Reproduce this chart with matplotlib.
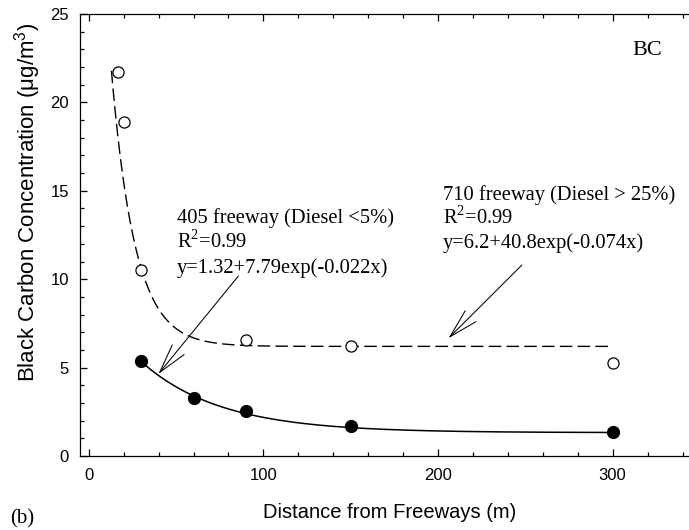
import numpy as np
import matplotlib
matplotlib.use("Agg")
import matplotlib.pyplot as plt
from matplotlib.ticker import MultipleLocator

plt.rcParams["mathtext.fontset"] = "custom"
plt.rcParams["mathtext.rm"] = "Liberation Serif"
plt.rcParams["mathtext.sf"] = "Liberation Sans"

# ---- data ----
dist_710 = [17, 20, 30, 90, 150, 300]
bc_710 = [21.7, 18.9, 10.5, 6.55, 6.2, 5.25]
dist_405 = [30, 60, 90, 150, 300]
bc_405 = [5.35, 3.28, 2.53, 1.70, 1.35]

# fitted curves as printed in the chart: y = a + b*exp(-k*x)
fit_710 = (6.2, 40.8, 0.074)
fit_710_range = (13, 300)
fit_405 = (1.32, 7.79, 0.022)
fit_405_range = (30, 300)

x_ticks = [0, 100, 200, 300]
y_ticks = [0, 5, 10, 15, 20, 25]

serif = ["Liberation Serif", "DejaVu Serif"]
sans = ["Liberation Sans", "DejaVu Sans"]

W, H = 689, 530
fig = plt.figure(figsize=(W / 100, H / 100), dpi=100)
# axes: left spine at 80 px, bottom at 456 px, top at 14 px, right edge beyond the picture
ax = fig.add_axes([80 / W, (H - 456) / H, 620 / W, 442 / H])
ax.set_xlim(-5, 350)
ax.set_ylim(0, 25)

def curve(p, rng):
    a, b, k = p
    xs = np.linspace(rng[0], rng[1], 300)
    return xs, a + b * np.exp(-k * xs)

xs, ys = curve(fit_710, fit_710_range)
ax.plot(xs, ys, color="black", lw=1.0, dashes=(9, 3.8))
xs, ys = curve(fit_405, fit_405_range)
ax.plot(xs, ys, color="black", lw=1.1)

ax.plot(dist_710, bc_710, linestyle="none", marker="o", ms=8, mfc="white",
        mec="black", mew=0.9, zorder=3)
ax.plot(dist_405, bc_405, linestyle="none", marker="o", ms=8.5, mfc="black",
        mec="black", zorder=3)

# ticks
ax.set_xticks(x_ticks)
ax.set_yticks(y_ticks)
ax.xaxis.set_minor_locator(MultipleLocator(20))
ax.yaxis.set_minor_locator(MultipleLocator(1))
ax.tick_params(which="both", direction="in", top=True, right=True, width=0.9,
               labelsize=12, colors="black")
ax.tick_params(which="major", length=5)
ax.tick_params(which="minor", length=3)
ax.tick_params(axis="x", pad=9)
ax.tick_params(axis="y", pad=8)
for lab in ax.get_xticklabels() + ax.get_yticklabels():
    lab.set_family(sans)
for s in ["left", "bottom", "top"]:
    ax.spines[s].set_linewidth(0.9)
ax.spines["right"].set_visible(False)

# annotation texts
fs = 14.8
ax.text(50.6, 13.18, "405 freeway (Diesel <5%)", family=serif, fontsize=fs, va="baseline")
ax.text(50.6, 11.76, r"R$^{\mathrm{2}}$=0.99", family=serif, fontsize=fs, va="baseline")
ax.text(50.6, 10.35, "y=1.32+7.79exp(-0.022x)", family=serif, fontsize=fs, va="baseline")

ax.text(202.9, 14.48, "710 freeway (Diesel > 25%)", family=serif, fontsize=fs, va="baseline")
ax.text(202.9, 13.12, r"R$^{\mathrm{2}}$=0.99", family=serif, fontsize=fs, va="baseline")
ax.text(202.9, 11.76, "y=6.2+40.8exp(-0.074x)", family=serif, fontsize=fs, va="baseline")

ax.text(311.3, 22.7, "BC", family=serif, fontsize=16, va="baseline")

aprops = dict(arrowstyle="->,head_length=2.1,head_width=0.55", mutation_scale=10,
              lw=0.75, color="black", shrinkA=0, shrinkB=0)
ax.annotate("", xy=(39.9, 4.64), xytext=(85.7, 10.18), arrowprops=aprops)
ax.annotate("", xy=(206, 6.66), xytext=(248.0, 10.8), arrowprops=aprops)

# axis labels
fig.text(390 / W, 1 - 513 / H, "Distance from Freeways (m)", family=sans,
         fontsize=14.5, ha="center", va="center")
fig.text(28 / W, 1 - 202 / H, r"Black Carbon Concentration (μg/m$^{\mathsf{3}}$)",
         family=sans, fontsize=16, rotation=90, ha="center", va="center")
fig.text(10 / W, 1 - 519 / H, "(b)", family=serif, fontsize=15, ha="left", va="center")

fig.savefig("out.png", dpi=100)
